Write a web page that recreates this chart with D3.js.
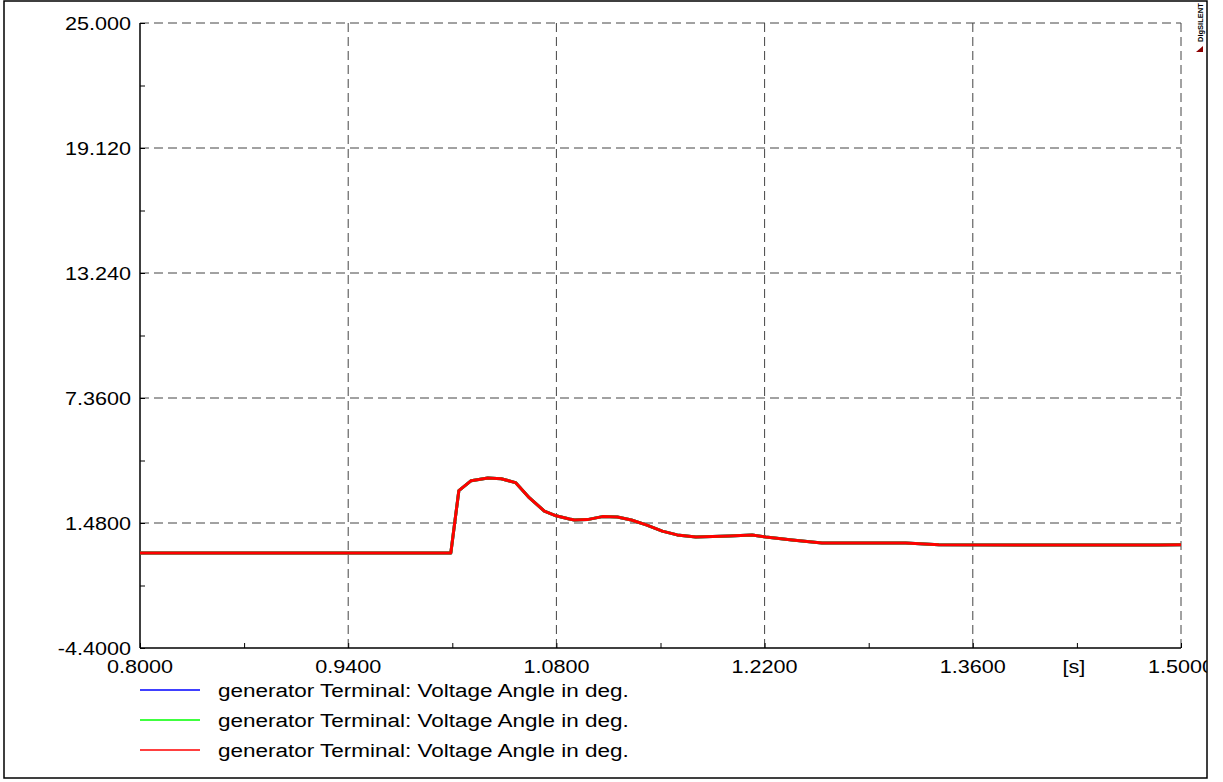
<!DOCTYPE html>
<html>
<head>
<meta charset="utf-8">
<script src="https://cdn.jsdelivr.net/npm/d3@7"></script>
<style>
  html, body { margin: 0; padding: 0; background: #fff; }
  svg { display: block; }
  text { font-family: "Liberation Sans", Arial, sans-serif; fill: #000; }
</style>
</head>
<body>
<svg id="chart" width="1223" height="782"></svg>
<script>
// Simulation time axis [s] and voltage angle samples [deg]
const times = [0.8, 1.009, 1.0144, 1.0227, 1.0339, 1.0429, 1.0525, 1.0619, 1.0719, 1.0798,
  1.0887, 1.0921, 1.1008, 1.1109, 1.121, 1.1304, 1.1404, 1.1512, 1.1612, 1.1738,
  1.1962, 1.2116, 1.2208, 1.2385, 1.2586, 1.2922, 1.3148, 1.3372, 1.4063, 1.4849, 1.5];
const angleBlue = [0.07, 0.07, 3.0, 3.47, 3.6, 3.56, 3.38, 2.66, 2.04, 1.82,
  1.67, 1.62, 1.64, 1.78, 1.76, 1.62, 1.39, 1.10, 0.92, 0.82,
  0.87, 0.92, 0.82, 0.68, 0.54, 0.54, 0.54, 0.46, 0.44, 0.44, 0.46];
const angleGreen = [0.07, 0.07, 3.0, 3.47, 3.6, 3.56, 3.38, 2.66, 2.04, 1.82,
  1.67, 1.62, 1.64, 1.78, 1.76, 1.62, 1.39, 1.10, 0.92, 0.82,
  0.87, 0.92, 0.82, 0.68, 0.54, 0.54, 0.54, 0.46, 0.44, 0.44, 0.46];
const angleRed = [0.07, 0.07, 3.0, 3.47, 3.6, 3.56, 3.38, 2.66, 2.04, 1.82,
  1.67, 1.62, 1.64, 1.78, 1.76, 1.62, 1.39, 1.10, 0.92, 0.82,
  0.87, 0.92, 0.82, 0.68, 0.54, 0.54, 0.54, 0.46, 0.44, 0.44, 0.46];

const seriesNames = [
  "generator Terminal: Voltage Angle in deg.",
  "generator Terminal: Voltage Angle in deg.",
  "generator Terminal: Voltage Angle in deg."
];
const seriesColors = ["#0000ff", "#00ff00", "#ff0000"];

const xTicks = [0.8, 0.94, 1.08, 1.22, 1.36, 1.5];
const xTickLabels = ["0.8000", "0.9400", "1.0800", "1.2200", "1.3600", "1.5000"];
const yTicks = [-4.4, 1.48, 7.36, 13.24, 19.12, 25];
const yTickLabels = ["-4.4000", "1.4800", "7.3600", "13.240", "19.120", "25.000"];
const xUnit = "[s]";

const svg = d3.select("#chart");
const plotLeft = 140, plotRight = 1181, plotTop = 23, plotBottom = 648;
const x = d3.scaleLinear().domain([0.8, 1.5]).range([plotLeft, plotRight]);
const y = d3.scaleLinear().domain([-4.4, 25]).range([plotBottom, plotTop]);

const defs = svg.append("defs");
defs.append("clipPath").attr("id", "plotClip")
  .append("rect").attr("x", plotLeft).attr("y", plotTop - 2)
  .attr("width", plotRight - plotLeft).attr("height", plotBottom - plotTop + 4);
defs.append("clipPath").attr("id", "frameClip")
  .append("rect").attr("x", 4).attr("y", 1).attr("width", 1203).attr("height", 776);

const fontSize = 18;
function label(g, px, py, str, anchor, sx) {
  g.append("text")
    .attr("transform", `translate(${px},${py}) scale(${sx},1)`)
    .attr("text-anchor", anchor)
    .attr("font-size", fontSize)
    .text(str);
}

// Dashed grid
const grid = svg.append("g").attr("stroke", "#444").attr("stroke-width", 1)
  .attr("stroke-dasharray", "9,5").attr("fill", "none");
grid.selectAll("line.gx").data(xTicks.slice(1)).join("line").attr("class", "gx")
  .attr("x1", d => x(d)).attr("x2", d => x(d)).attr("y1", plotTop).attr("y2", plotBottom);
grid.selectAll("line.gy").data(yTicks.slice(1)).join("line").attr("class", "gy")
  .attr("x1", plotLeft).attr("x2", plotRight).attr("y1", d => y(d)).attr("y2", d => y(d));

// Minor / major tick marks via d3 axes, drawn inward
const xMinor = xTicks.slice(0, -1).map((d, i) => (d + xTicks[i + 1]) / 2);
const yMinor = yTicks.slice(0, -1).map((d, i) => (d + yTicks[i + 1]) / 2);
const axX = svg.append("g").attr("transform", `translate(0,${plotBottom})`)
  .call(d3.axisTop(x).tickValues(xTicks.concat(xMinor)).tickSize(5).tickFormat(""));
const axY = svg.append("g").attr("transform", `translate(${plotLeft},0)`)
  .call(d3.axisRight(y).tickValues(yTicks.concat(yMinor)).tickSize(5).tickFormat(""));
[axX, axY].forEach(a => {
  a.select(".domain").remove();
  a.selectAll(".tick line").attr("stroke", "#000").attr("stroke-width", 1);
});

// Solid left and bottom axis lines
svg.append("line").attr("x1", plotLeft).attr("x2", plotLeft).attr("y1", plotTop).attr("y2", plotBottom)
  .attr("stroke", "#000").attr("stroke-width", 1.5);
svg.append("line").attr("x1", plotLeft).attr("x2", plotRight).attr("y1", plotBottom).attr("y2", plotBottom)
  .attr("stroke", "#000").attr("stroke-width", 1.5);

// Series
const line = d3.line().x((d, i) => x(times[i])).y(d => y(d)).curve(d3.curveLinear);
const plot = svg.append("g").attr("clip-path", "url(#plotClip)");
[angleBlue, angleGreen, angleRed].forEach((vals, k) => {
  plot.append("path").attr("d", line(vals))
    .attr("fill", "none").attr("stroke", seriesColors[k])
    .attr("stroke-width", 3).attr("stroke-linejoin", "round");
});

// Tick labels
const labels = svg.append("g").attr("clip-path", "url(#frameClip)");
yTicks.forEach((v, i) => label(labels, 131, y(v) + 7, yTickLabels[i], "end", 1.2));
xTicks.forEach((v, i) => label(labels, x(v), 673, xTickLabels[i], "middle", 1.2));
label(labels, (x(1.36) + x(1.5)) / 2 - 3, 673, xUnit, "middle", 1.2);

// Legend
seriesNames.forEach((name, k) => {
  const ly = 690 + k * 30;
  svg.append("line").attr("x1", 140).attr("x2", 200).attr("y1", ly).attr("y2", ly)
    .attr("stroke", seriesColors[k]).attr("stroke-width", 1.5);
  label(svg, 218, ly + 7, name, "start", 1.25);
});

// Brand mark in the top-right corner
svg.append("text")
  .attr("transform", "translate(1203,42) rotate(-90)")
  .attr("font-size", 7.5).attr("font-weight", "bold")
  .text("DIgSILENT");
svg.append("path").attr("d", "M1203,46 L1203,52 L1196,52 Z").attr("fill", "#8b0000");

// Outer frame
svg.append("rect").attr("x", 4).attr("y", 1).attr("width", 1203).attr("height", 777)
  .attr("fill", "none").attr("stroke", "#000").attr("stroke-width", 1.5);
</script>
</body>
</html>
